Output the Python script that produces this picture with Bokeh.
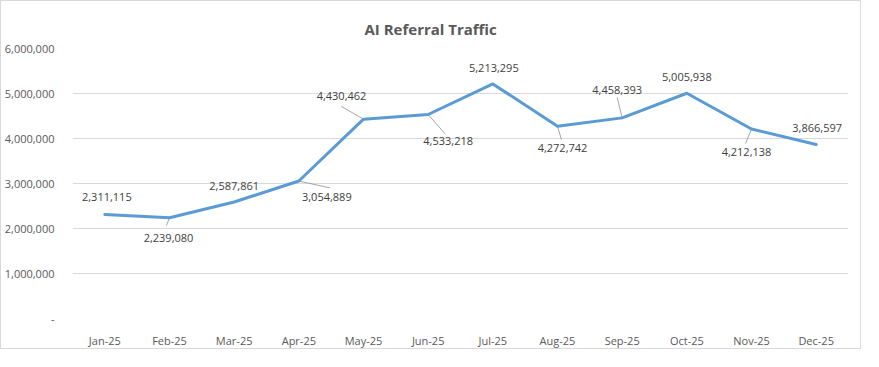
from bokeh.plotting import figure
from bokeh.models import ColumnDataSource, FixedTicker, Range1d
from bokeh.embed import file_html
from bokeh.resources import INLINE
from bokeh.core.properties import value

# ---- data ----
months = ["Jan-25", "Feb-25", "Mar-25", "Apr-25", "May-25", "Jun-25",
          "Jul-25", "Aug-25", "Sep-25", "Oct-25", "Nov-25", "Dec-25"]
traffic = [2311115, 2239080, 2587861, 3054889, 4430462, 4533218,
           5213295, 4272742, 4458393, 5005938, 4212138, 3866597]
y_ticks = [0, 1000000, 2000000, 3000000, 4000000, 5000000, 6000000]
y_tick_labels = ["-", "1,000,000", "2,000,000", "3,000,000", "4,000,000", "5,000,000", "6,000,000"]

# ---- styling: label placement (screen px, y down) ----
label_dx = [2, -1, 0, 28, -22, 20, 1, 5, -5, 0, -5, 1]
label_dy = [-17, 20, -16, 16, -23, 26, -16, 22, -28, -16, 23, -17]
# leader line ends (screen px, y down); None = no leader
leader = [None, (-3, 8), None, (31, 7), (-22, -13), (17, 20), None, (4, 14),
          (-5, -21), None, (-6, 15), None]

FRAME_W, FRAME_H = 776, 278
FONT = "Open Sans"
GRAY = "#595959"

p = figure(width=861, height=349, output_backend="svg", toolbar_location=None,
           x_range=Range1d(-0.5, 11.5), y_range=Range1d(0, 6000000),
           min_border_left=71, min_border_right=14, min_border_top=47, min_border_bottom=24,
           background_fill_color="white", border_fill_color="white",
           outline_line_color=None)
p.styles = {"border": "1px solid #d9d9d9"}

p.title.text = "AI Referral Traffic"
p.title.align = "left"
p.title.text_font = FONT
p.title.text_font_size = "15px"
p.title.text_font_style = "bold"
p.title.text_color = GRAY
p.title.offset = 292
p.title.standoff = 20

# axes
xs = list(range(len(months)))
p.xaxis.ticker = FixedTicker(ticks=xs)
p.xaxis.major_label_overrides = {i: m for i, m in enumerate(months)}
p.yaxis.ticker = FixedTicker(ticks=y_ticks)
p.yaxis.major_label_overrides = {t: l for t, l in zip(y_ticks, y_tick_labels)}
for ax in (p.xaxis, p.yaxis):
    ax.axis_line_color = None
    ax.major_tick_line_color = None
    ax.minor_tick_line_color = None
    ax.major_label_text_font = FONT
    ax.major_label_text_font_size = "11px"
    ax.major_label_text_color = GRAY
p.xaxis.major_label_standoff = 8
p.yaxis.major_label_standoff = 12

p.xgrid.grid_line_color = None
p.ygrid.grid_line_color = "#d9d9d9"
p.ygrid.grid_line_width = 1

# leader lines
px_x = FRAME_W / 12.0
px_y = FRAME_H / 6000000.0
x0, y0, x1, y1 = [], [], [], []
for i, ld in enumerate(leader):
    if ld is None:
        continue
    x0.append(xs[i]); y0.append(traffic[i])
    x1.append(xs[i] + ld[0] / px_x); y1.append(traffic[i] - ld[1] / px_y)
p.segment(x0=x0, y0=y0, x1=x1, y1=y1, line_color="#a6a6a6", line_width=1)

# line
src = ColumnDataSource(dict(x=xs, y=traffic, lab=[f"{v:,}" for v in traffic],
                            dx=label_dx, dy=label_dy))
p.line("x", "y", source=src, line_color="#5b9bd5", line_width=3,
       line_join="round", line_cap="round")

p.text(x="x", y="y", text="lab", source=src, x_offset="dx", y_offset="dy",
       text_font=value(FONT), text_font_size="11px", text_color="#404040",
       text_align="center", text_baseline="middle")

open("out.html", "w").write(file_html(p, INLINE))
